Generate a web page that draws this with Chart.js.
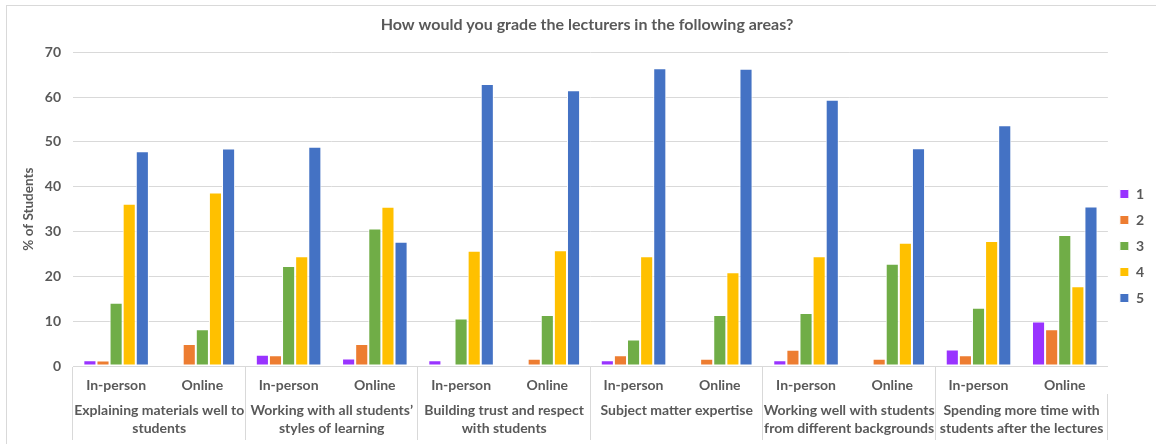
<!DOCTYPE html>
<html>
<head>
<meta charset="utf-8">
<script src="https://cdn.jsdelivr.net/npm/chart.js@4"></script>
<style>
    html, body { margin: 0; padding: 0; background: #fff; overflow: hidden; }
    .frame { position: absolute; left: 6px; top: 5px; width: 1160px; height: 460px; border: 1px solid #d9d9d9; }
    .chart-box { position: absolute; left: 0; top: 0; width: 1156px; height: 444px; }
</style>
</head>
<body>
<div class="frame"></div>
<div class="chart-box"><canvas id="gradeChart"></canvas></div>
<script>
// 下段：評価項目（2行に分けたラベル）
const areas = [
    ["Explaining materials well to", "students"],
    ["Working with all students’", "styles of learning"],
    ["Building trust and respect", "with students"],
    ["Subject matter expertise"],
    ["Working well with students", "from different backgrounds"],
    ["Spending more time with", "students after the lectures"]
];
// 上段：受講形式
const modes = ["In-person", "Online", "In-person", "Online", "In-person", "Online",
               "In-person", "Online", "In-person", "Online", "In-person", "Online"];

// 評価 1〜5 ごとの割合（%）
const grade1 = [1.3, 0, 2.5, 1.7, 1.3, 0, 1.3, 0, 1.3, 0, 3.7, 9.9];
const grade2 = [1.2, 4.9, 2.4, 4.9, 0, 1.6, 2.4, 1.6, 3.6, 1.6, 2.4, 8.2];
const grade3 = [14.1, 8.2, 22.3, 30.7, 10.6, 11.4, 5.9, 11.4, 11.8, 22.8, 13.0, 29.2];
const grade4 = [36.2, 38.7, 24.5, 35.5, 25.7, 25.8, 24.5, 20.9, 24.5, 27.5, 27.9, 17.8];
const grade5 = [47.9, 48.5, 48.9, 27.7, 62.9, 61.5, 66.4, 66.3, 59.4, 48.6, 53.7, 35.6];

const gradeNames = ["1", "2", "3", "4", "5"];
const yTicks = [0, 10, 20, 30, 40, 50, 60, 70];

document.addEventListener("DOMContentLoaded", function () {
    const canvas = document.getElementById("gradeChart");
    if (!canvas || !window.Chart) return;

    const textColor = "#595959";
    const lineColor = "#d9d9d9";
    const fontFamily = "Lato, 'Open Sans', sans-serif";
    const colors = ["#9933ff", "#ed7d31", "#70ad47", "#ffc000", "#4472c4"];
    const series = [grade1, grade2, grade3, grade4, grade5];

    const datasets = series.map((values, i) => ({
        label: gradeNames[i],
        data: values,
        backgroundColor: colors[i],
        borderColor: "#ffffff",
        borderWidth: 1,
        borderSkipped: false,
        categoryPercentage: 0.76,
        barPercentage: 1.0
    }));

    new Chart(canvas.getContext("2d"), {
        type: "bar",
        data: { labels: modes, datasets: datasets },
        options: {
            responsive: true,
            maintainAspectRatio: false,
            animation: false,
            layout: { padding: { left: 20, right: 2, top: 12, bottom: 4 } },
            plugins: {
                tooltip: { enabled: false },
                title: {
                    display: true,
                    text: "How would you grade the lecturers in the following areas?",
                    color: textColor,
                    font: { family: fontFamily, size: 16, weight: "bold" },
                    padding: { top: 3, bottom: 18 }
                },
                legend: {
                    position: "right",
                    // 空のタイトルで凡例を少し下へずらす
                    title: { display: true, text: "", font: { size: 10, lineHeight: 1 }, padding: { top: 0, bottom: 30 } },
                    labels: {
                        color: textColor,
                        font: { family: fontFamily, size: 14, weight: "bold" },
                        boxWidth: 9,
                        boxHeight: 9,
                        padding: 12
                    }
                }
            },
            scales: {
                y: {
                    min: 0,
                    max: 70,
                    afterBuildTicks: (scale) => { scale.ticks = yTicks.map(v => ({ value: v })); },
                    afterFit: (scale) => { scale.width = 53; },
                    grid: { color: lineColor, drawTicks: false },
                    border: { display: false },
                    ticks: {
                        color: textColor,
                        padding: 12,
                        font: { family: fontFamily, size: 14, weight: "bold" }
                    },
                    title: {
                        display: true,
                        text: "% of Students",
                        color: textColor,
                        padding: 1,
                        font: { family: fontFamily, size: 13.5, weight: "bold" }
                    }
                },
                x: {
                    offset: true,
                    afterFit: (scale) => { scale.height = 28; },
                    grid: {
                        offset: true,
                        drawOnChartArea: false,
                        tickLength: 28,
                        color: (ctx) => (ctx.index % 2 === 0 ? lineColor : "rgba(0,0,0,0)")
                    },
                    border: { display: true, color: lineColor },
                    ticks: {
                        color: textColor,
                        padding: -17,
                        maxRotation: 0,
                        autoSkip: false,
                        font: { family: fontFamily, size: 14, weight: "bold" }
                    }
                },
                x2: {
                    type: "category",
                    position: "bottom",
                    labels: areas,
                    offset: true,
                    afterFit: (scale) => { scale.height = 46; },
                    grid: {
                        offset: true,
                        drawOnChartArea: false,
                        tickLength: 46,
                        color: lineColor
                    },
                    border: { display: false },
                    ticks: {
                        color: textColor,
                        padding: -39,
                        maxRotation: 0,
                        autoSkip: false,
                        font: { family: fontFamily, size: 14, weight: "bold", lineHeight: 1.3 }
                    }
                }
            }
        }
    });
});
</script>
</body>
</html>
